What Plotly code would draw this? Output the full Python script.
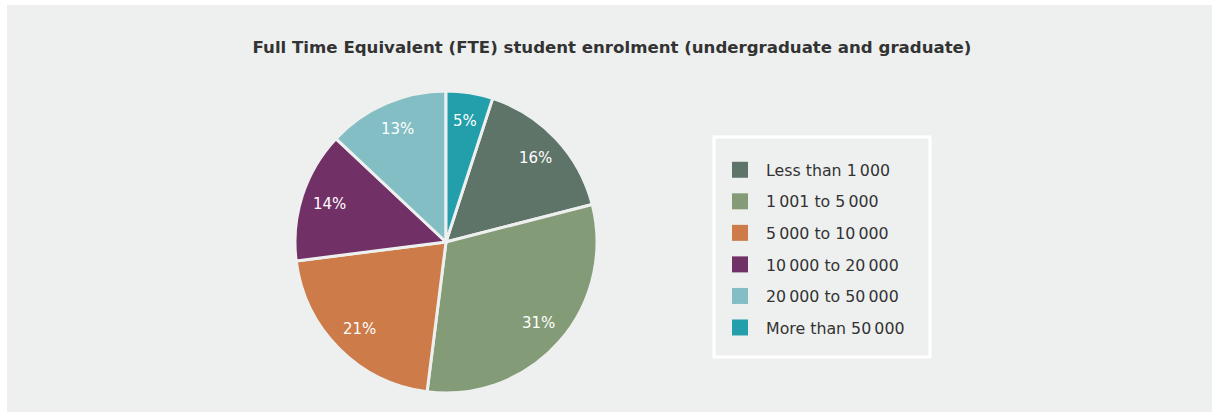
import math
import plotly.graph_objects as go

# data (clockwise from 12 o'clock the first slice is "More than 50 000")
categories = ["Less than 1\u2009000", "1\u2009001 to 5\u2009000", "5\u2009000 to 10\u2009000",
              "10\u2009000 to 20\u2009000", "20\u2009000 to 50\u2009000", "More than 50\u2009000"]
shares = [16, 31, 21, 14, 13, 5]
colors = ["#5e7469", "#849b77", "#cc7b49", "#713066", "#82bec4", "#229fab"]

title_text = "Full Time Equivalent (FTE) student enrolment (undergraduate and graduate)"

W, H = 1212, 412
BG = "#eef0ef"
FONT = "DejaVu Sans"

def px(x):
    return x / W

def py(y):
    return 1 - y / H

# pie geometry in page pixels
cx, cy, r = 446, 242, 151
label_r = 123
rotation = shares[-1] / sum(shares) * 360

pie = go.Pie(
    labels=categories,
    values=shares,
    sort=False,
    direction="clockwise",
    rotation=rotation,
    marker=dict(colors=colors, line=dict(color=BG, width=3)),
    textinfo="none",
    hoverinfo="label+percent",
    showlegend=False,
    domain=dict(x=[px(cx - r), px(cx + r)], y=[py(cy + r), py(cy - r)]),
)

# percentage labels placed on each slice's mid angle
annotations = []
total = sum(shares)
cum = 0
for s in shares:
    mid = math.radians(rotation + 360 * (cum + s / 2) / total)
    cum += s
    annotations.append(dict(
        x=px(cx + label_r * math.sin(mid)), y=py(cy - label_r * math.cos(mid)),
        xref="paper", yref="paper", xanchor="center", yanchor="middle",
        text=f"{s}%", showarrow=False,
        font=dict(family=FONT, size=15, color="white"),
    ))

# legend entries as square markers
legend_traces = []
for name, c in zip(categories, colors):
    legend_traces.append(go.Scatter(
        x=[None], y=[None], mode="markers", name=name, legendgroup=name,
        marker=dict(symbol="square", size=16, color=c),
    ))

fig = go.Figure(data=[pie] + legend_traces)

fig.update_layout(
    width=W, height=H,
    margin=dict(l=0, r=0, t=0, b=0),
    paper_bgcolor="white",
    plot_bgcolor="rgba(0,0,0,0)",
    font=dict(family=FONT, color="#333333"),
    title=dict(text=title_text, x=px(612), xanchor="center", y=py(47), yanchor="middle",
               font=dict(family=FONT, size=16.6, color="#333333", weight="bold")),
    xaxis=dict(visible=False),
    yaxis=dict(visible=False),
    legend=dict(
        x=px(714), xanchor="left", y=py(153), yanchor="top",
        bgcolor="rgba(0,0,0,0)", borderwidth=0,
        font=dict(family=FONT, size=15.8, color="#333333"),
        itemwidth=42, tracegroupgap=8,
    ),
    annotations=annotations,
    shapes=[
        dict(type="rect", xref="paper", yref="paper", layer="below",
             x0=px(7), x1=1, y0=0, y1=py(5),
             line=dict(width=0), fillcolor=BG),
        dict(type="rect", xref="paper", yref="paper",
             x0=px(714), x1=px(930), y0=py(357), y1=py(137),
             line=dict(color="white", width=3), fillcolor="rgba(0,0,0,0)"),
    ],
)

fig.write_html("out.html", config={"displayModeBar": False},
               post_script="document.body.style.margin = '0px';")
